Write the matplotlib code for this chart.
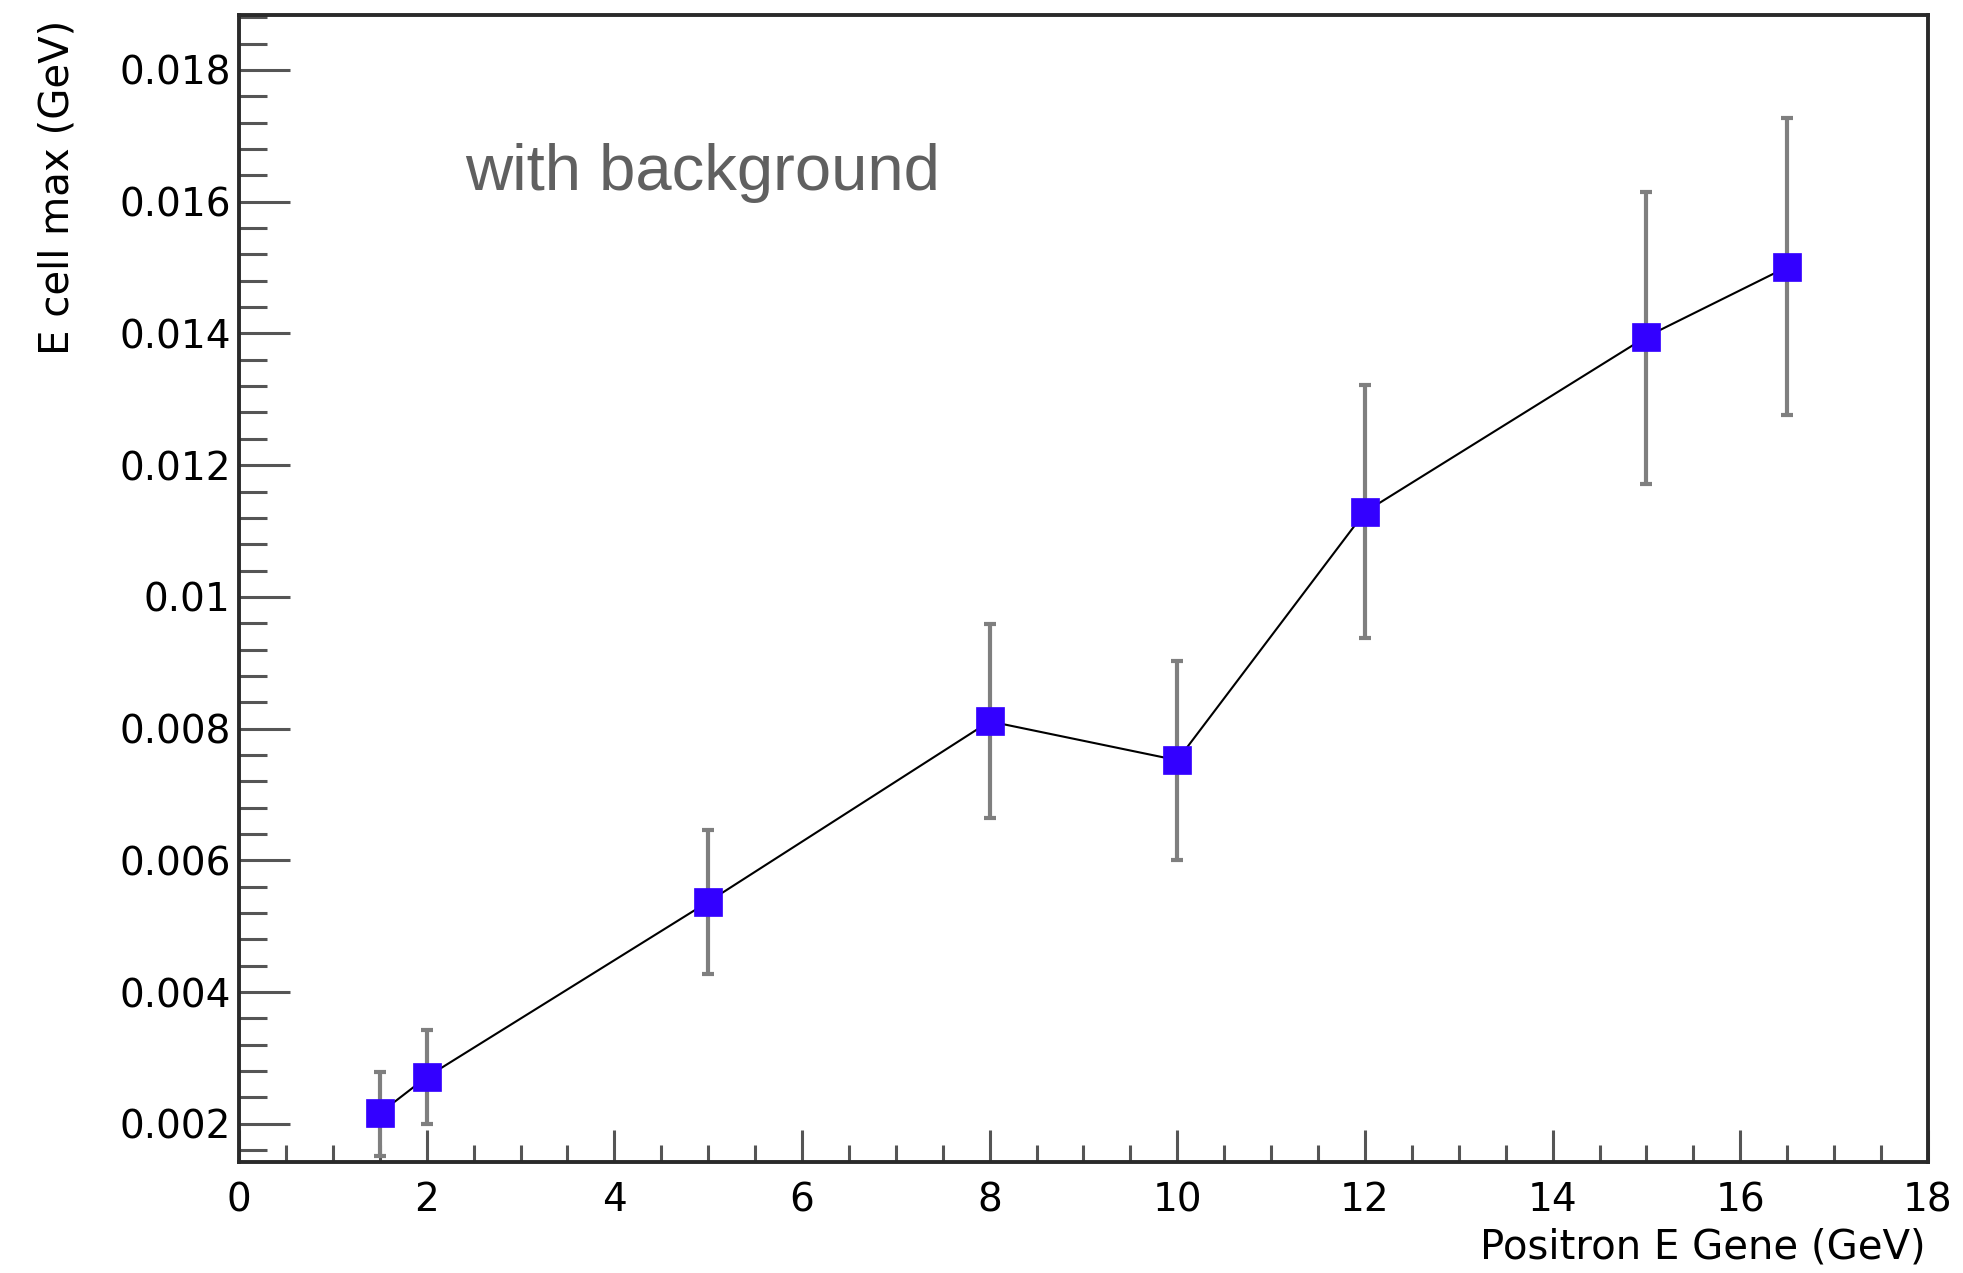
import matplotlib
matplotlib.use("Agg")
import matplotlib.pyplot as plt
from matplotlib.ticker import MultipleLocator, FixedFormatter, FixedLocator
import numpy as np

# Data
energy = [1.5, 2, 5, 8, 10, 12, 15, 16.5]
e_cell_max = [0.00216, 0.00271, 0.00537, 0.00811, 0.00752, 0.01129, 0.01395, 0.01501]
err_up = [0.00063, 0.00072, 0.00109, 0.00148, 0.00151, 0.00193, 0.00220, 0.00226]
err_down = [0.00065, 0.00071, 0.00110, 0.00147, 0.00152, 0.00192, 0.00224, 0.00225]

y_ticks = [0.002, 0.004, 0.006, 0.008, 0.010, 0.012, 0.014, 0.016, 0.018]
y_tick_labels = ["0.002", "0.004", "0.006", "0.008", "0.01", "0.012", "0.014", "0.016", "0.018"]
x_ticks = [0, 2, 4, 6, 8, 10, 12, 14, 16, 18]
x_tick_labels = ["0", "2", "4", "6", "8", "10", "12", "14", "16", "18"]

fig = plt.figure(figsize=(19.63, 12.73), dpi=100)
ax = fig.add_axes([239/1963, 1 - 1162/1273, (1928-239)/1963, (1162-15)/1273])

ax.errorbar(energy, e_cell_max, yerr=[err_down, err_up], fmt='none',
            ecolor='#7f7f7f', elinewidth=3.0, capsize=4, capthick=3, zorder=2)
ax.plot(energy, e_cell_max, color='black', lw=1.5, zorder=3)
ax.plot(energy, e_cell_max, ls='none', marker='s', ms=20, mfc='#3300ff',
        mec='#3300ff', mew=0.5, zorder=4)

ax.set_xlim(0, 18)
ax.set_ylim(0.00142, 0.018835)

ax.xaxis.set_major_locator(FixedLocator(x_ticks))
ax.xaxis.set_major_formatter(FixedFormatter(x_tick_labels))
ax.xaxis.set_minor_locator(MultipleLocator(0.5))
ax.yaxis.set_major_locator(FixedLocator(y_ticks))
ax.yaxis.set_major_formatter(FixedFormatter(y_tick_labels))
ax.yaxis.set_minor_locator(MultipleLocator(0.0004))

ax.tick_params(axis='both', which='both', direction='in', top=False, right=False,
               color='#555555', width=2.2)
ax.tick_params(axis='x', which='major', length=23, pad=14, labelsize=28)
ax.tick_params(axis='x', which='minor', length=12.5)
ax.tick_params(axis='y', which='major', length=37, pad=6, labelsize=28)
ax.tick_params(axis='y', which='minor', length=20)

for s in ax.spines.values():
    s.set_linewidth(2.8)
    s.set_color('#2a2a2a')

ax.set_xlabel("Positron E Gene (GeV)", fontsize=29, ha='right', va='top')
ax.xaxis.set_label_coords(0.9985, -0.0567)
ax.set_ylabel("E cell max (GeV)", fontsize=29, ha='right')
ax.yaxis.set_label_coords(-0.0959, 0.9956)

fig.text(465/1963, 1 - 190/1273, "with background", fontsize=47,
         family='Liberation Sans', color='#606060', ha='left', va='baseline')

fig.savefig("out.png", dpi=100)
